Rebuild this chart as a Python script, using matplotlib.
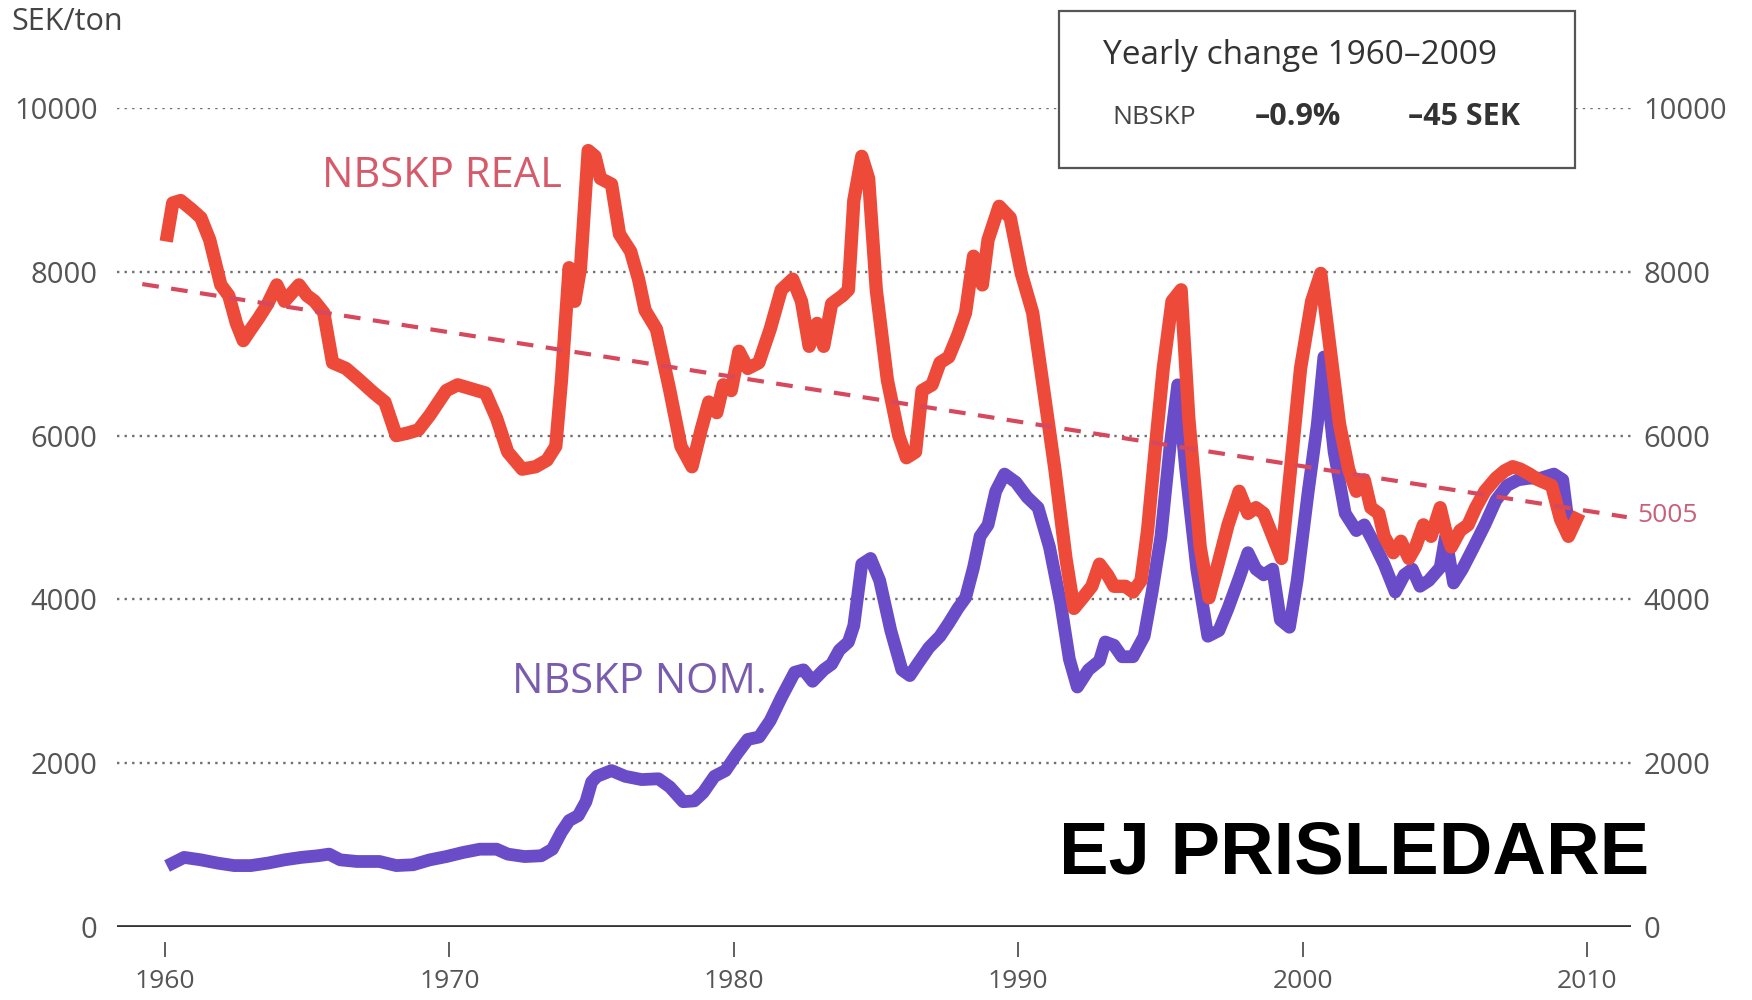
import matplotlib
matplotlib.use("Agg")
import matplotlib.pyplot as plt
from matplotlib.patches import Rectangle

# ---------------- data ----------------
real_years = [1960.08, 1960.27, 1960.55, 1960.94, 1961.26, 1961.57, 1961.96, 1962.24, 1962.51, 1962.75,
              1963.02, 1963.30, 1963.61, 1963.93, 1964.20, 1964.48, 1964.71, 1964.99, 1965.26, 1965.58,
              1965.89, 1966.36, 1966.83, 1967.34, 1967.73, 1968.13, 1968.52, 1968.91, 1969.31, 1969.62,
              1969.89, 1970.29, 1970.68, 1971.27, 1971.66, 1972.05, 1972.56, 1973.03, 1973.43, 1973.74,
              1973.94, 1974.21, 1974.41, 1974.61, 1974.88, 1975.12, 1975.31, 1975.70, 1975.98, 1976.37,
              1976.65, 1976.88, 1977.28, 1977.75, 1978.14, 1978.53, 1978.85, 1979.12, 1979.40, 1979.63,
              1979.91, 1980.18, 1980.49, 1980.88, 1981.28, 1981.67, 1982.07, 1982.38, 1982.65, 1982.93,
              1983.16, 1983.44, 1983.83, 1984.03, 1984.22, 1984.50, 1984.74, 1985.01, 1985.40, 1985.80,
              1986.07, 1986.39, 1986.62, 1986.97, 1987.25, 1987.56, 1987.88, 1988.15, 1988.43, 1988.74,
              1988.94, 1989.33, 1989.72, 1990.11, 1990.51, 1990.90, 1991.29, 1991.68, 1991.96, 1992.27,
              1992.59, 1992.86, 1993.14, 1993.37, 1993.77, 1994.04, 1994.32, 1994.55, 1994.83, 1995.10,
              1995.41, 1995.73, 1996.00, 1996.40, 1996.71, 1996.98, 1997.38, 1997.77, 1998.08, 1998.36,
              1998.63, 1998.95, 1999.26, 1999.54, 1999.93, 2000.32, 2000.64, 2000.91, 2001.30, 2001.62,
              2001.89, 2002.17, 2002.40, 2002.68, 2002.87, 2003.19, 2003.46, 2003.74, 2003.97, 2004.25,
              2004.52, 2004.84, 2005.03, 2005.23, 2005.54, 2005.82, 2006.09, 2006.41, 2006.80, 2007.11,
              2007.39, 2007.66, 2007.98, 2008.29, 2008.76, 2009.07, 2009.35, 2009.63]
real_values = [8450, 8840, 8870, 8760, 8660, 8390, 7840, 7710, 7370, 7160,
               7300, 7440, 7610, 7840, 7640, 7750, 7840, 7710, 7640, 7500,
               6890, 6820, 6680, 6520, 6410, 6000, 6030, 6070, 6250, 6410,
               6550, 6620, 6580, 6520, 6210, 5800, 5590, 5620, 5700, 5870,
               6680, 8050, 7640, 8050, 9480, 9410, 9140, 9070, 8460, 8250,
               7910, 7530, 7300, 6550, 5870, 5620, 6070, 6410, 6280, 6620,
               6550, 7030, 6820, 6890, 7300, 7780, 7910, 7640, 7090, 7370,
               7090, 7610, 7710, 7780, 8870, 9410, 9140, 7780, 6680, 6000,
               5730, 5800, 6550, 6620, 6890, 6960, 7230, 7500, 8190, 7840,
               8390, 8800, 8660, 7980, 7500, 6550, 5590, 4500, 3890, 4020,
               4160, 4430, 4300, 4160, 4160, 4090, 4230, 4840, 5870, 6820,
               7640, 7780, 6210, 4640, 4020, 4370, 4910, 5320, 5050, 5120,
               5050, 4770, 4500, 5460, 6820, 7640, 7980, 7230, 6140, 5590,
               5320, 5460, 5120, 5050, 4770, 4570, 4710, 4500, 4640, 4910,
               4770, 5120, 4840, 4640, 4840, 4910, 5120, 5320, 5480, 5570,
               5620, 5590, 5530, 5460, 5390, 4980, 4770, 4980]

nom_years = [1960.27, 1960.67, 1961.26, 1961.85, 1962.43, 1963.02, 1963.61, 1964.20, 1964.79, 1965.38,
             1965.77, 1966.16, 1966.75, 1967.54, 1968.13, 1968.72, 1969.31, 1969.89, 1970.48, 1971.07,
             1971.66, 1972.05, 1972.64, 1973.23, 1973.62, 1973.94, 1974.21, 1974.53, 1974.80, 1975.00,
             1975.19, 1975.70, 1976.18, 1976.76, 1977.35, 1977.75, 1978.22, 1978.61, 1978.92, 1979.32,
             1979.71, 1980.10, 1980.49, 1980.89, 1981.28, 1981.67, 1982.14, 1982.45, 1982.77, 1983.16,
             1983.44, 1983.71, 1984.03, 1984.22, 1984.50, 1984.81, 1985.13, 1985.52, 1985.91, 1986.19,
             1986.46, 1986.86, 1987.25, 1987.56, 1987.88, 1988.15, 1988.43, 1988.66, 1988.94, 1989.21,
             1989.52, 1989.92, 1990.31, 1990.70, 1991.10, 1991.49, 1991.80, 1992.08, 1992.47, 1992.86,
             1993.06, 1993.37, 1993.65, 1994.04, 1994.43, 1994.71, 1995.02, 1995.34, 1995.61, 1995.89,
             1996.28, 1996.67, 1997.06, 1997.38, 1997.77, 1998.08, 1998.36, 1998.63, 1998.95, 1999.22,
             1999.54, 1999.81, 2000.20, 2000.52, 2000.75, 2001.11, 2001.50, 2001.89, 2002.17, 2002.48,
             2002.87, 2003.26, 2003.58, 2003.86, 2004.13, 2004.44, 2004.84, 2005.03, 2005.31, 2005.62,
             2006.02, 2006.41, 2006.80, 2007.19, 2007.58, 2007.98, 2008.37, 2008.84, 2009.15, 2009.35]
nom_values = [780, 850, 820, 780, 750, 750, 780, 820, 850, 870,
              890, 820, 800, 800, 750, 760, 820, 860, 910, 950,
              950, 890, 860, 870, 950, 1160, 1300, 1360, 1530, 1770,
              1840, 1910, 1840, 1800, 1810, 1710, 1530, 1540, 1640, 1840,
              1910, 2110, 2290, 2320, 2520, 2800, 3110, 3140, 3000, 3140,
              3210, 3380, 3480, 3680, 4430, 4500, 4230, 3620, 3140, 3070,
              3210, 3410, 3550, 3710, 3890, 4020, 4390, 4770, 4910, 5320,
              5530, 5430, 5250, 5120, 4640, 3960, 3270, 2930, 3140, 3250,
              3480, 3440, 3300, 3300, 3550, 4090, 4770, 5870, 6620, 5590,
              4370, 3550, 3620, 3890, 4260, 4570, 4370, 4300, 4370, 3750,
              3660, 4230, 5320, 6140, 6960, 5800, 5050, 4840, 4910, 4710,
              4430, 4090, 4300, 4370, 4160, 4230, 4390, 4770, 4200, 4370,
              4640, 4910, 5210, 5390, 5460, 5480, 5480, 5530, 5460, 4910]

trend_years = [1959.2, 2011.4]
trend_values = [7850, 5005]
trend_end_label = "5005"

ytick_values = [0, 2000, 4000, 6000, 8000, 10000]
ytick_labels = ["0", "2000", "4000", "6000", "8000", "10000"]
xtick_values = [1960, 1970, 1980, 1990, 2000, 2010]
xtick_labels = ["1960", "1970", "1980", "1990", "2000", "2010"]

# ---------------- style ----------------
FONT = ["Open Sans", "DejaVu Sans"]
plt.rcParams["font.family"] = FONT
RED = "#EE4A3A"
PURPLE = "#6A4CC8"
TREND = "#D8485C"
GREY = "#555555"

W, H = 1752, 1000
fig = plt.figure(figsize=(W / 100, H / 100), dpi=100)
fig.patch.set_facecolor("white")

left, right = 117, 1631
ax = fig.add_axes([left / W, 0.073, (right - left) / W, 0.819])
ax.set_xlim(1958.31, 2011.55)
ax.set_ylim(0, 10000)

for s in ["top", "right", "left"]:
    ax.spines[s].set_visible(False)
ax.spines["bottom"].set_position(("outward", 11))
ax.spines["bottom"].set_visible(False)

# gridlines
for v in ytick_values[1:]:
    ax.axhline(v, color="#6f6f6f", lw=1.7, ls=(0, (1, 2.2)), zorder=1)
ax.axhline(0, color="#333333", lw=3.4, zorder=2)

ax.plot(nom_years, nom_values, color=PURPLE, lw=9.2, zorder=3, solid_joinstyle="round")
ax.plot(real_years, real_values, color=RED, lw=9.6, zorder=4, solid_joinstyle="round")
ax.plot(trend_years, trend_values, color=TREND, lw=3.0, ls=(0, (4, 3)), zorder=5, clip_on=False)

ax.set_xticks(xtick_values)
ax.set_xticklabels(xtick_labels)
ax.tick_params(axis="x", length=11, width=1.2, color="#444", pad=8, labelsize=19, labelcolor=GREY)

ax.set_yticks(ytick_values)
ax.set_yticklabels(ytick_labels)
ax.tick_params(axis="y", length=0, pad=14, labelsize=21, labelcolor=GREY)

ax2 = ax.twinx()
ax2.set_ylim(0, 10000)
for s in ax2.spines.values():
    s.set_visible(False)
ax2.set_yticks(ytick_values)
ax2.set_yticklabels(ytick_labels)
ax2.tick_params(axis="y", length=0, pad=9, labelsize=21, labelcolor=GREY)

def fx(x):
    return x / W

def fy(y):
    return 1 - y / H

fig.text(fx(11), fy(22), "SEK/ton", ha="left", va="center", fontsize=22, color="#444444")

box = Rectangle((fx(1059), fy(168)), (1575 - 1059) / W, (168 - 11) / H,
                transform=fig.transFigure, facecolor="white", edgecolor="#555555", lw=1.6, zorder=6)
fig.patches.append(box)
fig.text(fx(1103), fy(56), "Yearly change 1960\u20132009", ha="left", va="center", fontsize=24,
         color="#333333", zorder=7)
fig.text(fx(1112), fy(117), "NBSKP", ha="left", va="center", fontsize=19, color="#444444", zorder=7)
fig.text(fx(1255), fy(117), "\u20130.9%", ha="left", va="center", fontsize=22, color="#333333",
         fontweight="bold", zorder=7)
fig.text(fx(1408), fy(117), "\u201345 SEK", ha="left", va="center", fontsize=22, color="#333333",
         fontweight="bold", zorder=7)

fig.text(fx(322), fy(176), "NBSKP REAL", ha="left", va="center", fontsize=30, color="#D65A6A")
fig.text(fx(512), fy(682), "NBSKP NOM.", ha="left", va="center", fontsize=30, color="#7A5CAE")
fig.text(fx(1637), fy(516), trend_end_label, ha="left", va="center", fontsize=19, color="#C8607A")

fig.text(fx(1059), fy(855), "EJ PRISLEDARE", ha="left", va="center", fontsize=53.5,
         fontweight="bold", color="black", family=["Liberation Sans", "DejaVu Sans"])

fig.savefig("out.png", dpi=100)
